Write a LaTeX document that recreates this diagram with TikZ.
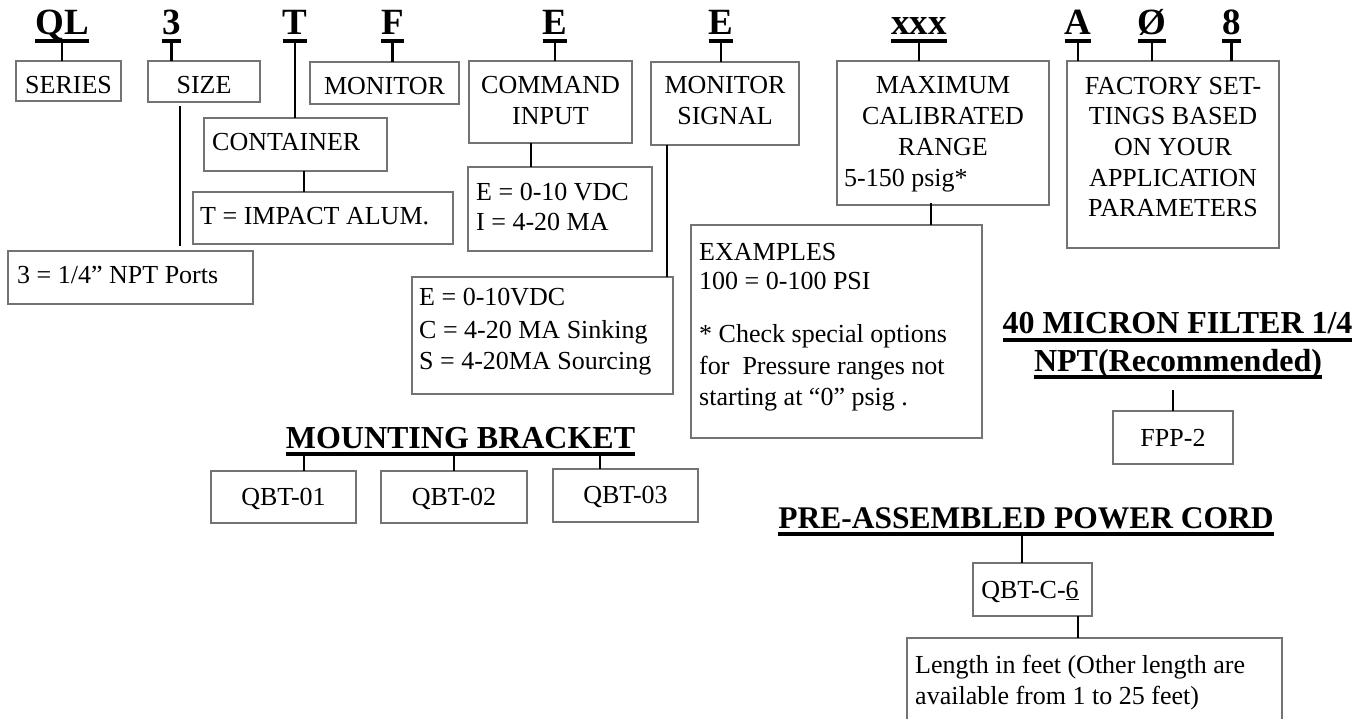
\documentclass[tikz,border=0pt]{standalone}
\usepackage{fontspec}
\setmainfont{Liberation Serif}
\usetikzlibrary{calc}
\newcommand\bodyf{\fontsize{26}{31}\selectfont}
\newcommand\letf{\fontsize{37}{44}\selectfont\bfseries}
\newcommand\secf{\fontsize{32}{38}\selectfont\bfseries}
\newcommand\secpf{\fontsize{31.5}{38}\selectfont\bfseries}
\tikzset{
  box/.style={draw=black!55, line width=1.1pt, inner sep=0pt, outer sep=0pt, anchor=north west},
  conn/.style={line width=2.7pt},
  uline/.style={line width=3.4pt},
  lettr/.style={font=\letf, inner sep=0pt, outer sep=0pt, anchor=base, text depth=0pt},
  sechead/.style={font=\secf, inner sep=0pt, outer sep=0pt, anchor=base, text depth=0pt},
  ltxt/.style={font=\bodyf, inner sep=0pt, anchor=base west},
  ctxt/.style={font=\bodyf, inner sep=0pt, anchor=base},
}
\begin{document}
\begin{tikzpicture}[x=1pt,y=-1pt]
\fill[white] (0,0) rectangle (1371,719);
\useasboundingbox (0,0) rectangle (1371,719);

% ---- code letters ----
\node[lettr] (lQL) at (62,35) {QL};
\node[lettr] (l3) at (171.5,35) {3};
\node[lettr] (lT) at (295,35) {T};
\node[lettr] (lF) at (392.5,35) {F};
\node[lettr] (lE1) at (555,35) {E};
\node[lettr] (lE2) at (721,35) {E};
\node[lettr] (lx) at (919,35) {xxx};
\node[lettr] (lA) at (1078,35) {A};
\node[lettr] (lO) at (1152,35) {Ø};
\node[lettr] (l8) at (1231.5,35) {8};
\foreach \n in {lQL,l3,lT,lF,lE1,lE2,lx,lA,lO,l8}
  \draw[uline] ([yshift=-6pt]\n.south west) -- ([yshift=-6pt]\n.south east);

% ---- boxes ----
\node[box, minimum width=105pt, minimum height=40pt] (series) at (16,61) {};
\node[box, minimum width=112pt, minimum height=41pt] (size) at (148,61) {};
\node[box, minimum width=149pt, minimum height=42pt] (monitor) at (310,62) {};
\node[box, minimum width=183pt, minimum height=53pt] (container) at (204,118) {};
\node[box, minimum width=260pt, minimum height=52pt] (impact) at (193,192) {};
\node[box, minimum width=245pt, minimum height=53pt] (ports) at (8,251) {};
\node[box, minimum width=163pt, minimum height=82pt] (command) at (469,61) {};
\node[box, minimum width=184pt, minimum height=84pt] (cmdvals) at (468,167) {};
\node[box, minimum width=148pt, minimum height=83pt] (monsig) at (651,62) {};
\node[box, minimum width=261pt, minimum height=117pt] (monvals) at (412,277) {};
\node[box, minimum width=212pt, minimum height=144pt] (maxcal) at (837,61) {};
\node[box, minimum width=291pt, minimum height=213pt] (examples) at (691,225) {};
\node[box, minimum width=212pt, minimum height=187pt] (factory) at (1067,61) {};
\node[box, minimum width=120pt, minimum height=53pt] (fpp) at (1113,411) {};
\node[box, minimum width=145pt, minimum height=52pt] (qbt1) at (211,471) {};
\node[box, minimum width=146pt, minimum height=52pt] (qbt2) at (381,471) {};
\node[box, minimum width=145pt, minimum height=53pt] (qbt3) at (553,469) {};
\node[box, minimum width=119pt, minimum height=53pt] (qbtc) at (973,563) {};
\node[box, draw=none, minimum width=375pt, minimum height=82pt] (length) at (907,638) {};
\draw[draw=black!55, line width=1.1pt] (length.south west) |- (length.north east) -- (length.south east);

% ---- box texts ----
\node[ctxt] at (68.5,94) {SERIES};
\node[ctxt] at (204,94) {SIZE};
\node[ctxt] at (384.5,95) {MONITOR};
\node[ltxt] at (212,151) {CONTAINER};
\node[ltxt] at (200,225) {T = IMPACT ALUM.};
\node[ltxt] at (17,284) {3 = 1/4” NPT Ports};
\node[ctxt] at (550.5,94) {COMMAND};
\node[ctxt] at (550.5,125) {INPUT};
\node[ltxt] at (476,201) {E = 0-10 VDC};
\node[ltxt] at (476,231) {I = 4-20 MA};
\node[ctxt] at (725,94) {MONITOR};
\node[ctxt] at (725,125) {SIGNAL};
\node[ltxt] at (419,306) {E = 0-10VDC};
\node[ltxt] at (419,338) {C = 4-20 MA Sinking};
\node[ltxt] at (419,369) {S = 4-20MA Sourcing};
\node[ctxt] at (943,94) {MAXIMUM};
\node[ctxt] at (943,125) {CALIBRATED};
\node[ctxt] at (943,156) {RANGE};
\node[ltxt] at (844,187) {5-150 psig*};
\node[ltxt] at (699,261) {EXAMPLES};
\node[ltxt] at (699,290) {100 = 0-100 PSI};
\node[ltxt] at (699,343) {* Check special options};
\node[ltxt] at (699,374) {for\ \ Pressure ranges not};
\node[ltxt] at (699,405) {starting at “0” psig .};
\node[ctxt] at (1173,95) {FACTORY SET-};
\node[ctxt] at (1173,125) {TINGS BASED};
\node[ctxt] at (1173,156) {ON YOUR};
\node[ctxt] at (1173,187) {APPLICATION};
\node[ctxt] at (1173,217) {PARAMETERS};
\node[ctxt] at (1173,446) {FPP-2};
\node[ctxt] at (283.5,505) {QBT-01};
\node[ctxt] at (454,505) {QBT-02};
\node[ctxt] at (625.5,503) {QBT-03};
\node[ctxt] at (1030,598) {QBT-C-\underline{6}};
\node[ltxt] at (915,673) {Length in feet (Other length are};
\node[ltxt] at (915,704) {available from 1 to 25 feet)};

% ---- section headings ----
\node[sechead] (mb) at (460.5,448) {MOUNTING BRACKET};
\node[sechead] (fl1) at (1177.5,334) {40 MICRON FILTER 1/4};
\node[sechead] (fl2) at (1178,371) {NPT(Recommended)};
\node[sechead, font=\secpf] (pc) at (1026,528) {PRE-ASSEMBLED POWER CORD};
\foreach \n in {mb,fl1,fl2,pc}
  \draw[uline] ([yshift=-6pt]\n.south west) -- ([yshift=-6pt]\n.south east);

% ---- connectors ----
\draw[conn] ([yshift=-6pt]lQL.south) -- (lQL.south |- series.north);
\draw[conn] ([yshift=-6pt]l3.south) -- (l3.south |- size.north);
\draw[conn] ([yshift=-6pt]lT.south) -- (lT.south |- container.north);
\draw[conn] ([yshift=-6pt]lF.south) -- (lF.south |- monitor.north);
\draw[conn] ([yshift=-6pt]lE1.south) -- (lE1.south |- command.north);
\draw[conn] ([yshift=-6pt]lE2.south) -- (lE2.south |- monsig.north);
\draw[conn] ([yshift=-6pt]lx.south) -- (lx.south |- maxcal.north);
\draw[conn] ([yshift=-6pt]lA.south) -- (lA.south |- factory.north);
\draw[conn] ([yshift=-6pt]lO.south) -- (lO.south |- factory.north);
\draw[conn] ([yshift=-6pt]l8.south) -- (l8.south |- factory.north);

\coordinate (c1) at ($(size.south west)+(32,4)$);
\draw[conn] (c1) -- ($(c1 |- ports.north)+(0,-5)$);
\coordinate (c2) at ($(container.south west)+(100,0)$);
\draw[conn] (c2) -- (c2 |- impact.north);
\coordinate (c3) at ($(command.south west)+(62,0)$);
\draw[conn] (c3) -- (c3 |- cmdvals.north);
\coordinate (c4) at ($(monsig.south west)+(16,0)$);
\draw[conn] (c4) -- (c4 |- monvals.north);
\coordinate (c5) at ($(maxcal.south west)+(94,-2)$);
\draw[conn] (c5) -- (c5 |- examples.north);

\coordinate (m1) at ($(qbt1.north |- mb.south)+(20.5,6)$);
\draw[conn] (m1) -- (m1 |- qbt1.north);
\coordinate (m2) at ($(qbt2.north |- mb.south)+(0,6)$);
\draw[conn] (m2) -- (qbt2.north);
\coordinate (m3) at ($(qbt3.north |- mb.south)+(-25.5,6)$);
\draw[conn] (m3) -- (m3 |- qbt3.north);

\coordinate (fc) at (1173,390);
\draw[conn] (fc) -- (fc |- fpp.north);

\coordinate (p1) at ($(qbtc.north |- pc.south)+(-10.5,6)$);
\draw[conn] (p1) -- (p1 |- qbtc.north);
\coordinate (p2) at ($(qbtc.south)+(45.5,0)$);
\draw[conn] (p2) -- (p2 |- length.north);
\end{tikzpicture}
\end{document}
